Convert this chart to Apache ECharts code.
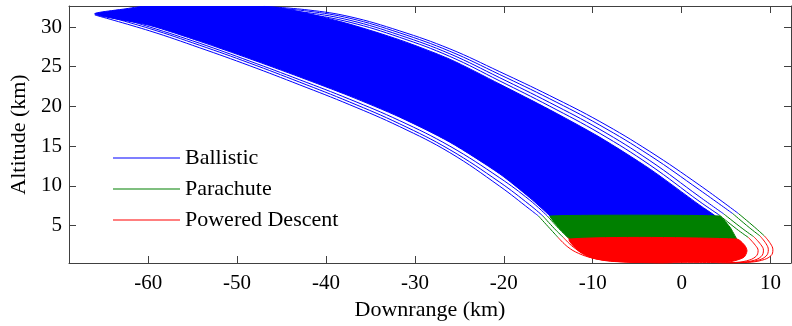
<!DOCTYPE html>
<html>
<head>
<meta charset="utf-8">
<script src="https://cdn.jsdelivr.net/npm/echarts@6/dist/echarts.min.js"></script>
<style>
html,body{margin:0;padding:0;background:#fff;}
#chart{width:792px;height:326px;}
</style>
</head>
<body>
<div id="chart"></div>
<script>
// ---- Data (km) ----
const xTicks = [-60, -50, -40, -30, -20, -10, 0, 10];
const yTicks = [5, 10, 15, 20, 25, 30];
const phaseNames = ['Ballistic', 'Parachute', 'Powered Descent'];

// Dense Monte-Carlo bands (outline of the filled region of each phase): [downrange, altitude]
const fillBallistic = [
  [-66.0, 31.64], [-62.5, 32.3], [-59.8, 32.7], [-50.0, 32.75], [-45.5, 32.45], [-42.0, 31.7],
  [-37.3, 30.35], [-31.7, 28.38], [-26.07, 25.95], [-20.45, 22.81], [-14.83, 19.58], [-9.2, 16.11],
  [-3.58, 12.13], [2.05, 7.55], [3.8, 6.2], [4.6, 5.3], [-14.0, 5.3], [-14.8, 6.2], [-17.08, 8.5],
  [-20.45, 11.5], [-26.07, 15.5], [-31.7, 18.65], [-37.32, 21.3], [-42.94, 23.7], [-48.56, 26.0],
  [-54.19, 28.2], [-59.81, 30.2]
];
const fillParachute = [
  [-14.8, 6.2], [4.3, 6.2], [5.5, 4.7], [6.2, 3.3], [6.5, 2.7], [-12.0, 2.7], [-12.6, 3.3], [-13.8, 4.7]
];
const fillPowered = [
  [-12.6, 3.3], [6.2, 3.3], [7.1, 2.5], [7.35, 1.8], [7.0, 1.0], [5.5, 0.45], [2.0, 0.33],
  [-4.0, 0.34], [-8.0, 0.5], [-10.2, 0.95], [-11.6, 1.8]
];

// Individual outlying trajectories (outer right R1..R4, lower left L1..L3)
const ballisticTracks = [
  [[-47.0,32.6],[-42,32.15],[-37.3,31.3],[-31.7,29.51],[-26.07,27.25],[-20.45,24.37],[-14.83,21.36],[-9.2,18.1],[-3.58,14.33],[2.05,10.06],[6.4,6.5]],
  [[-47.6,32.55],[-42,32.0],[-37.3,31.1],[-31.7,29.26],[-26.07,26.95],[-20.45,24.01],[-14.83,20.96],[-9.2,17.64],[-3.58,13.83],[2.05,9.46],[5.75,6.5]],
  [[-48.3,32.5],[-42,31.8],[-37.3,30.85],[-31.7,28.98],[-26.07,26.63],[-20.45,23.61],[-14.83,20.48],[-9.2,17.11],[-3.58,13.18],[2.05,8.6],[4.75,6.45]],
  [[-49.0,32.45],[-42,31.6],[-37.3,30.6],[-31.7,28.7],[-26.07,26.3],[-20.45,23.21],[-14.83,20.03],[-9.2,16.61],[-3.58,12.63],[2.05,8.0],[4.2,6.35]],
  [[-66.0,31.52],[-59.81,29.51],[-54.19,27.38],[-48.56,25.12],[-42.94,22.71],[-37.32,20.21],[-31.7,17.45],[-26.07,14.18],[-20.45,9.94],[-17.08,7.05],[-16.1,6.2]],
  [[-65.6,31.65],[-59.81,29.8],[-54.19,27.7],[-48.56,25.45],[-42.94,23.05],[-37.32,20.55],[-31.7,17.8],[-26.07,14.55],[-20.45,10.45],[-17.08,7.6],[-15.6,6.2]],
  [[-65.0,31.8],[-59.81,30.0],[-54.19,27.95],[-48.56,25.7],[-42.94,23.35],[-37.32,20.9],[-31.7,18.2],[-26.07,15.0],[-20.45,11.0],[-17.08,8.2],[-15.1,6.2]]
];
const parachuteTracks = [
  [[6.4,6.5],[8.2,4.8],[9.3,3.7]],
  [[5.75,6.5],[7.6,4.75],[8.8,3.7]],
  [[4.75,6.45],[6.8,4.65],[8.1,3.6]],
  [[4.2,6.35],[6.2,4.55],[7.5,3.5]],
  [[-16.1,6.2],[-14.8,4.6],[-13.9,3.5]],
  [[-15.6,6.2],[-14.3,4.6],[-13.3,3.5]],
  [[-15.1,6.2],[-13.8,4.6],[-12.8,3.5]]
];
const poweredTracks = [
  [[9.3,3.7],[10.0,2.7],[10.26,1.95],[10.05,1.2],[9.0,0.62],[7.4,0.36],[5.5,0.3]],
  [[8.8,3.7],[9.5,2.7],[9.75,1.95],[9.5,1.15],[8.5,0.6],[6.9,0.36],[5.0,0.3]],
  [[8.1,3.6],[8.9,2.6],[9.2,1.9],[8.95,1.1],[7.9,0.55],[6.3,0.34],[4.5,0.3]],
  [[7.5,3.5],[8.3,2.5],[8.6,1.85],[8.35,1.1],[7.3,0.55],[5.8,0.34],[4.0,0.3]],
  [[-13.9,3.5],[-12.8,2.3],[-11.6,1.5],[-10.0,0.9],[-8.0,0.55],[-5.5,0.37],[-2.0,0.3]],
  [[-13.3,3.5],[-12.2,2.3],[-11.0,1.5],[-9.4,0.9],[-7.4,0.55],[-5.0,0.37],[-1.5,0.3]],
  [[-12.8,3.5],[-11.7,2.3],[-10.5,1.5],[-8.9,0.9],[-6.9,0.55],[-4.5,0.37],[-1.0,0.3]]
];

// ---- Styling ----
const COLORS = ['#0000ff', '#008000', '#ff0000'];
const FONT = 'Liberation Serif';
const AXIS_COLOR = '#404040';

function polygonSeries(points, color, z, smooth) {
  return {
    type: 'custom',
    coordinateSystem: 'cartesian2d',
    xAxisIndex: 0, yAxisIndex: 0,
    silent: true,
    clip: true,
    z: z,
    data: points,
    renderItem: function (params, api) {
      if (params.dataIndex !== 0) return null;
      return {
        type: 'polygon',
        shape: { points: points.map(function (p) { return api.coord(p); }), smooth: smooth },
        style: { fill: color, stroke: color, lineWidth: 1 }
      };
    }
  };
}

function trackSeries(tracks, idx, z) {
  return tracks.map(function (tr) {
    return {
      type: 'line', name: phaseNames[idx], data: tr,
      xAxisIndex: 0, yAxisIndex: 0,
      symbol: 'none', showSymbol: false, smooth: 0.4,
      lineStyle: { color: COLORS[idx], width: 1 },
      itemStyle: { color: COLORS[idx] },
      z: z, silent: true, animation: false
    };
  });
}

const series = [].concat(
  [polygonSeries(fillBallistic, COLORS[0], 2, 0.25),
   polygonSeries(fillParachute, COLORS[1], 3, 0.1),
   polygonSeries(fillPowered, COLORS[2], 4, 0.25)],
  trackSeries(ballisticTracks, 0, 5),
  trackSeries(parachuteTracks, 1, 6),
  trackSeries(poweredTracks, 2, 7)
);

const X_MIN = -68.9, X_MAX = 12.3, Y_MIN = 0.28, Y_MAX = 32.65;

function xAxisDef(pos, labels) {
  return {
    type: 'value', position: pos, min: X_MIN, max: X_MAX,
    name: labels ? 'Downrange (km)' : '',
    nameLocation: 'middle', nameGap: 36,
    nameTextStyle: { fontFamily: FONT, fontSize: 22, color: '#000' },
    axisLine: { show: true, onZero: false, lineStyle: { color: AXIS_COLOR, width: 1 } },
    axisTick: { show: true, inside: true, length: 7, customValues: xTicks, lineStyle: { color: AXIS_COLOR } },
    axisLabel: { show: labels, customValues: xTicks, margin: 10, fontFamily: FONT, fontSize: 21, color: '#000' },
    splitLine: { show: false }
  };
}
function yAxisDef(pos, labels) {
  return {
    type: 'value', position: pos, min: Y_MIN, max: Y_MAX,
    name: labels ? 'Altitude (km)' : '',
    nameLocation: 'middle', nameGap: 36, nameRotate: 90,
    nameTextStyle: { fontFamily: FONT, fontSize: 22, color: '#000' },
    axisLine: { show: true, onZero: false, lineStyle: { color: AXIS_COLOR, width: 1 } },
    axisTick: { show: true, inside: true, length: 7, customValues: yTicks, lineStyle: { color: AXIS_COLOR } },
    axisLabel: { show: labels, customValues: yTicks, margin: 7, fontFamily: FONT, fontSize: 21, color: '#000' },
    splitLine: { show: false }
  };
}

const chart = echarts.init(document.getElementById('chart'), null, { renderer: 'canvas' });
chart.setOption({
  animation: false,
  backgroundColor: '#fff',
  grid: { left: 69, right: 1, top: 6, bottom: 62, containLabel: false },
  xAxis: [xAxisDef('bottom', true), xAxisDef('top', false)],
  yAxis: [yAxisDef('left', true), yAxisDef('right', false)],
  legend: {
    show: true, orient: 'vertical', left: 113, top: 147, padding: 0,
    itemWidth: 67, itemHeight: 1, itemGap: 9,
    icon: 'rect',
    data: phaseNames,
    textStyle: { fontFamily: FONT, fontSize: 22, color: '#000', lineHeight: 22 },
    selectedMode: false
  },
  series: series
});
</script>
</body>
</html>
